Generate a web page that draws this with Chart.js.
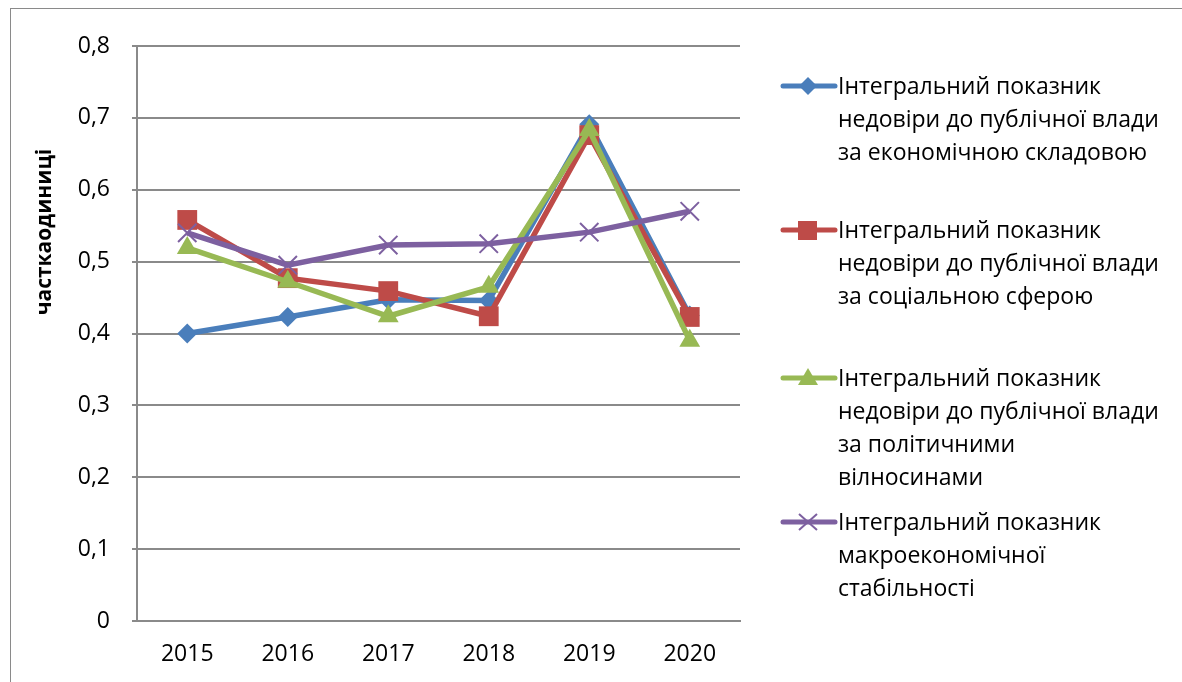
<!DOCTYPE html>
<html>
<head>
<meta charset="utf-8">
<script src="https://cdn.jsdelivr.net/npm/chart.js@4.4.1/dist/chart.umd.min.js"></script>
<style>
  html, body { margin: 0; padding: 0; background: #fff; }
  #wrap { position: relative; width: 1182px; height: 682px; overflow: hidden; }
  #frame { position: absolute; left: 10px; top: 8px; width: 1300px; height: 800px; border: 1.5px solid #8a8a8a; box-sizing: border-box; }
  canvas { position: absolute; left: 0; top: 0; }
  #legend { position: absolute; left: 780px; top: 0; font-family: "Open Sans", sans-serif; font-size: 23px; color: #000; }
  .item { position: absolute; left: 0; width: 400px; }
  .item svg { position: absolute; left: 0; top: 0; }
  .item .txt { position: absolute; left: 58px; top: -17px; line-height: 33px; white-space: nowrap; }
</style>
</head>
<body>
<div id="wrap">
  <div id="frame"></div>
  <canvas id="c" width="1182" height="682"></canvas>
  <div id="legend"></div>
</div>
<script>
const categories = ['2015', '2016', '2017', '2018', '2019', '2020'];
const seriesNames = [
  'Інтегральний показник\nнедовіри до публічної влади\nза економічною складовою',
  'Інтегральний показник\nнедовіри до публічної влади\nза соціальною сферою',
  'Інтегральний показник\nнедовіри до публічної влади\nза політичними\nвілносинами',
  'Інтегральний показник\nмакроекономічної\nстабільності'
];
const economic = [0.400, 0.423, 0.447, 0.446, 0.691, 0.425];
const social = [0.558, 0.477, 0.459, 0.424, 0.676, 0.423];
const political = [0.519, 0.472, 0.424, 0.465, 0.683, 0.390];
const macro = [0.540, 0.495, 0.523, 0.525, 0.541, 0.570];
const yTicks = [0, 0.1, 0.2, 0.3, 0.4, 0.5, 0.6, 0.7, 0.8];
const yTitle = 'часткаодиниці';

const colors = ['#4a7ebb', '#be4b48', '#98b954', '#7d60a0'];
const styles = ['rectRot', 'rect', 'triangle', 'crossRot'];
const radii = [10, 14, 12, 13];
const values = [economic, social, political, macro];
const FONT = '"Open Sans", sans-serif';

const datasets = values.map((v, i) => ({
  label: seriesNames[i],
  data: v,
  order: values.length - 1 - i,
  borderColor: colors[i],
  backgroundColor: colors[i],
  borderWidth: 5.5,
  pointStyle: styles[i],
  pointRadius: radii[i],
  pointBorderWidth: i === 3 ? 2 : 0,
  pointBorderColor: colors[i],
  pointBackgroundColor: colors[i],
  tension: 0
}));

const titlePlugin = {
  id: 'ytitle',
  afterDraw(chart) {
    const ctx = chart.ctx;
    ctx.save();
    ctx.translate(45, 232);
    ctx.rotate(-Math.PI / 2);
    ctx.font = 'bold 21px ' + FONT;
    ctx.fillStyle = '#000';
    ctx.textAlign = 'center';
    ctx.textBaseline = 'middle';
    ctx.fillText(yTitle, 0, 0);
    ctx.restore();
  }
};

new Chart(document.getElementById('c'), {
  type: 'line',
  data: { labels: categories, datasets },
  options: {
    responsive: false,
    animation: false,
    layout: { padding: { left: 10, right: 442, top: 46, bottom: 0 } },
    plugins: { legend: { display: false }, tooltip: { enabled: false } },
    scales: {
      x: {
        offset: true,
        grid: { display: false, drawTicks: false },
        border: { display: true, color: '#8a8a8a', width: 2 },
        ticks: { color: '#000', font: { family: FONT, size: 23 }, padding: 20 },
        afterFit(axis) { axis.height = 682 - 621; }
      },
      y: {
        min: 0, max: 0.8,
        afterBuildTicks(axis) { axis.ticks = yTicks.map(v => ({ value: v })); },
        grid: { color: '#8a8a8a', lineWidth: 2, tickLength: 5, drawTicks: true },
        border: { display: true, color: '#8a8a8a', width: 2 },
        ticks: {
          color: '#000', padding: 22,
          font: { family: FONT, size: 23 },
          callback: v => v === 0 ? '0' : v.toFixed(1).replace('.', ',')
        },
        afterFit(axis) { axis.width = 137 - 10; }
      }
    }
  },
  plugins: [titlePlugin]
});

// HTML legend
const legendTops = [86, 230, 378, 522];
const legend = document.getElementById('legend');
seriesNames.forEach((name, i) => {
  const item = document.createElement('div');
  item.className = 'item';
  item.style.top = legendTops[i] + 'px';
  let marker = '';
  const c = colors[i];
  if (i === 0) marker = `<polygon points="28,-9 37,0 28,9 19,0" fill="${c}"/>`;
  if (i === 1) marker = `<rect x="18" y="-9" width="19" height="19" fill="${c}"/>`;
  if (i === 2) marker = `<polygon points="28,-10 38,7 18,7" fill="${c}"/>`;
  if (i === 3) marker = `<path d="M19,-8 L37,8 M19,8 L37,-8" stroke="${c}" stroke-width="2"/>`;
  item.innerHTML = `<svg width="58" height="24" viewBox="0 -12 58 24" style="top:-12px"><line x1="3" y1="0" x2="55" y2="0" stroke="${c}" stroke-width="5" stroke-linecap="round"/>${marker}</svg><div class="txt">${name.split('\n').join('<br>')}</div>`;
  legend.appendChild(item);
});
</script>
</body>
</html>
